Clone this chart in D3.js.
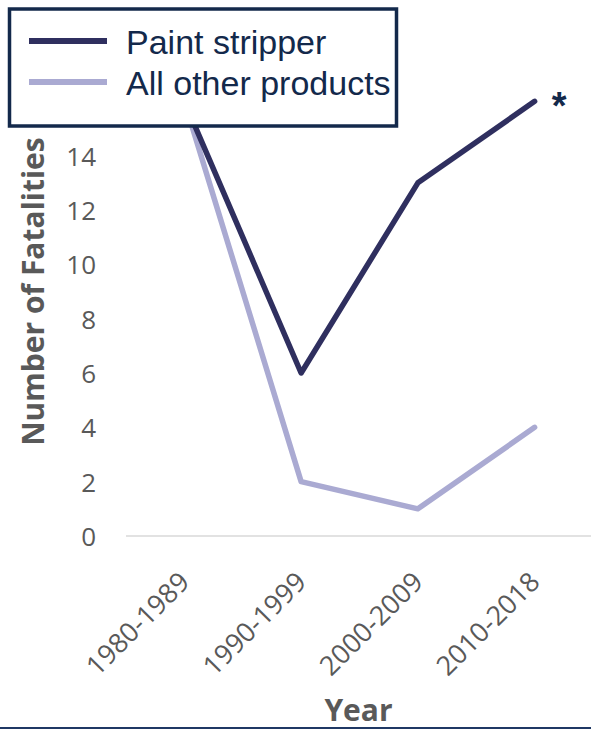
<!DOCTYPE html>
<html>
<head>
<meta charset="utf-8">
<script src="https://cdn.jsdelivr.net/npm/d3@7"></script>
<style>
  html, body { margin: 0; padding: 0; background: #fff; }
  svg { display: block; }
</style>
</head>
<body>
<svg id="chart" width="591" height="729"></svg>
<script>
// Fatalities per decade
const categories = ["1980-1989", "1990-1999", "2000-2009", "2010-2018"];
const paintStripper = [16, 6, 13, 16];
const allOtherProducts = [16, 2, 1, 4];
const yTicks = [0, 2, 4, 6, 8, 10, 12, 14, 16, 18];
const seriesNames = ["Paint stripper", "All other products"];

const series = [
  { name: seriesNames[1], values: allOtherProducts, color: "#aaaad2" },
  { name: seriesNames[0], values: paintStripper, color: "#2f2f5f" }
];

const svg = d3.select("#chart");
const W = 591, H = 729;

const x = d3.scaleBand().domain(categories).range([126, 593]);
const y = d3.scaleLinear().domain([0, 18]).range([536, 47]);

const tickFont = "'Open Sans', sans-serif";
const grey = "#595959";
const navy = "#13294b";

// y tick labels (no axis line)
const yAxis = d3.axisLeft(y).tickValues(yTicks).tickSize(0).tickPadding(0);
const gy = svg.append("g").attr("transform", "translate(96,0)").call(yAxis);
gy.select(".domain").remove();
gy.selectAll("text")
  .attr("fill", grey)
  .style("font-family", tickFont)
  .style("font-size", "26px")
  .attr("dy", "0.36em");

// baseline at zero
svg.append("line")
  .attr("x1", x.range()[0]).attr("x2", W)
  .attr("y1", y(0)).attr("y2", y(0))
  .attr("stroke", "#d9d9d9").attr("stroke-width", 1.5);

// x tick labels, rotated
const xAxis = d3.axisBottom(x).tickSize(0).tickPadding(0);
const gx = svg.append("g").attr("transform", "translate(0,577)").call(xAxis);
gx.select(".domain").remove();
gx.selectAll("text")
  .attr("fill", grey)
  .style("font-family", tickFont)
  .style("font-size", "27px")
  .attr("text-anchor", "end")
  .attr("y", 0)
  .attr("dy", "0.35em")
  .attr("transform", "rotate(-45)");

// series lines
const line = d3.line()
  .x((d, i) => x(categories[i]) + x.bandwidth() / 2)
  .y(d => y(d));

svg.append("g").selectAll("path")
  .data(series)
  .join("path")
  .attr("d", d => line(d.values))
  .attr("fill", "none")
  .attr("stroke", d => d.color)
  .attr("stroke-width", 5.5)
  .attr("stroke-linejoin", "round")
  .attr("stroke-linecap", "round");

// asterisk next to the last paint stripper point
const lastCat = categories[categories.length - 1];
svg.append("text")
  .attr("x", x(lastCat) + x.bandwidth() / 2 + 17)
  .attr("y", y(paintStripper[paintStripper.length - 1]) + 18)
  .attr("fill", navy)
  .style("font-family", "'Liberation Sans', Arial, sans-serif")
  .style("font-weight", "bold")
  .style("font-size", "38px")
  .text("*");

// axis titles
svg.append("text")
  .attr("transform", `translate(44,${(135 + 448) / 2}) rotate(-90)`)
  .attr("text-anchor", "middle")
  .attr("fill", grey)
  .style("font-family", tickFont)
  .style("font-weight", "bold")
  .style("font-size", "30px")
  .text("Number of Fatalities");

// bottom frame rule
svg.append("line")
  .attr("x1", 0).attr("x2", W)
  .attr("y1", 728).attr("y2", 728)
  .attr("stroke", "#1f3864").attr("stroke-width", 2);

svg.append("text")
  .attr("x", (x.range()[0] + W) / 2)
  .attr("y", 721)
  .attr("text-anchor", "middle")
  .attr("fill", grey)
  .style("font-family", tickFont)
  .style("font-weight", "bold")
  .style("font-size", "30px")
  .text("Year");

// legend box
const legend = svg.append("g");
legend.append("rect")
  .attr("x", 9.5).attr("y", 9)
  .attr("width", 387).attr("height", 117)
  .attr("fill", "#fff")
  .attr("stroke", navy)
  .attr("stroke-width", 3.5);

const legendItems = [series[1], series[0]];
legendItems.forEach((s, i) => {
  const cy = 41 + i * 41;
  legend.append("line")
    .attr("x1", 29).attr("x2", 107)
    .attr("y1", cy).attr("y2", cy)
    .attr("stroke", s.color).attr("stroke-width", 6);
  legend.append("text")
    .attr("x", 126).attr("y", cy + 13)
    .attr("fill", navy)
    .style("font-family", "'Liberation Sans', Arial, sans-serif")
    .style("font-size", "34px")
    .text(s.name);
});
</script>
</body>
</html>
